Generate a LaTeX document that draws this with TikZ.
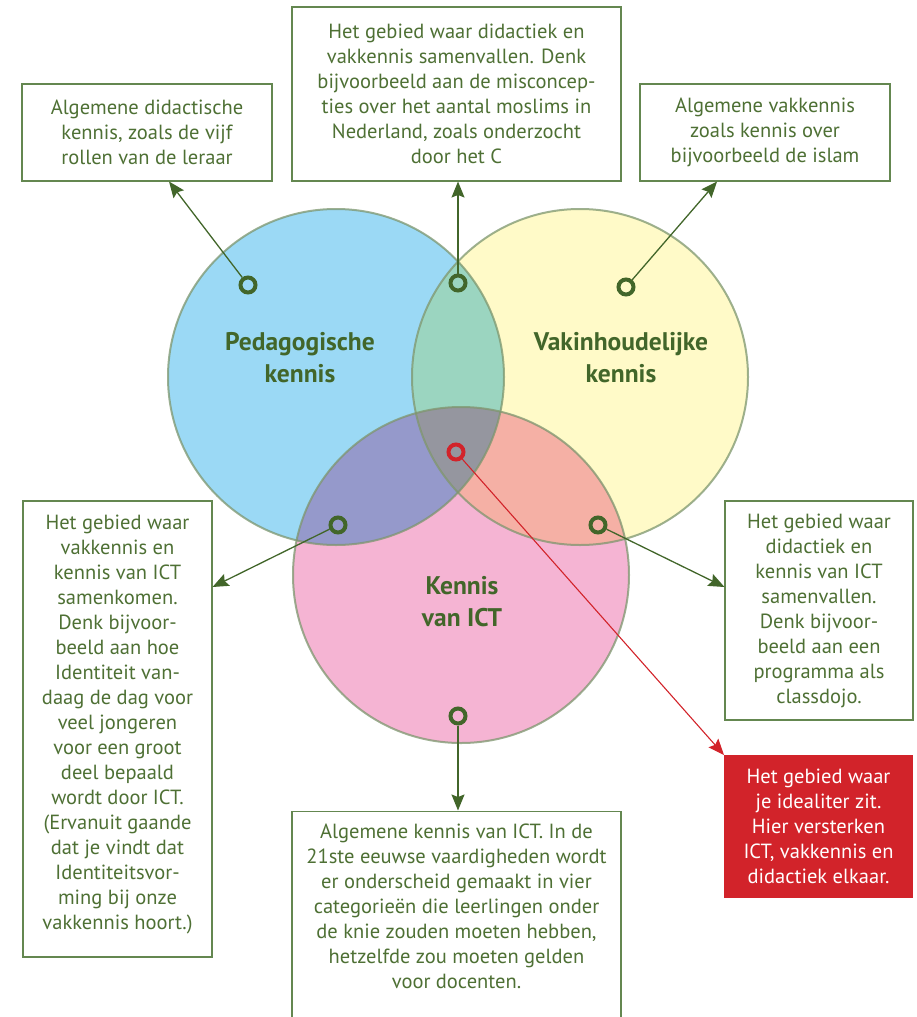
\documentclass[tikz,border=0pt]{standalone}
\usepackage{fontspec}
\setmainfont{PT Sans}
\usetikzlibrary{arrows.meta}

% palette
\definecolor{cblue}{RGB}{155,217,245}
\definecolor{cyellow}{RGB}{255,250,200}
\definecolor{cpink}{RGB}{245,180,211}
\definecolor{cby}{RGB}{155,213,192}
\definecolor{cbp}{RGB}{149,153,203}
\definecolor{cyp}{RGB}{245,176,165}
\definecolor{cbyp}{RGB}{149,150,159}
\definecolor{rimcol}{RGB}{125,150,110}
\definecolor{boxline}{RGB}{100,135,80}
\definecolor{txtgreen}{RGB}{78,112,52}
\definecolor{darkgreen}{RGB}{66,102,42}
\definecolor{accentred}{RGB}{210,35,42}

\tikzset{
  box/.style={draw=boxline, line width=1.1pt, fill=white, rectangle, inner sep=0pt,
    text=txtgreen, align=center, font=\fontsize{20.5}{25}\selectfont},
  boxtext/.style={inner sep=0pt, text=txtgreen, align=center, font=\fontsize{20.5}{25}\selectfont},
  redbox/.style={fill=accentred, rectangle, inner sep=0pt, text=white, align=center,
    font=\fontsize{20.5}{25}\selectfont},
  setlabel/.style={inner sep=0pt, text=darkgreen, align=center,
    font=\bfseries\fontsize{25.5}{32}\selectfont},
  ring/.style={circle, draw=darkgreen, line width=4pt, minimum size=15pt, inner sep=0pt},
  redring/.style={ring, draw=accentred},
  conn/.style={draw=darkgreen, line width=1.3pt, -{Stealth[length=16pt, width=13pt, inset=2.5pt]}},
  redconn/.style={draw=accentred, line width=1.1pt, -{Stealth[length=16pt, width=13pt, inset=2.5pt]}},
  rim/.style={draw=rimcol, draw opacity=0.75, line width=2pt}
}

\begin{document}
\begin{tikzpicture}[x=1pt, y=-1pt]
\useasboundingbox (0,0) rectangle (916,1017);
\clip (0,0) rectangle (916,1017);

% the three knowledge domains
\def\rad{168}
\fill[cblue]   (336,377) circle (\rad);
\fill[cyellow] (580,377) circle (\rad);
\fill[cpink]   (461,575) circle (\rad);
\begin{scope}
  \clip (336,377) circle (\rad);
  \fill[cby] (580,377) circle (\rad);
  \fill[cbp] (461,575) circle (\rad);
\end{scope}
\begin{scope}
  \clip (580,377) circle (\rad);
  \fill[cyp] (461,575) circle (\rad);
  \clip (336,377) circle (\rad);
  \fill[cbyp] (461,575) circle (\rad);
\end{scope}
\draw[rim] (336,377) circle (\rad);
\draw[rim] (580,377) circle (\rad);
\draw[rim] (461,575) circle (\rad);

\node[setlabel] (lped) at (300,358) {Pedagogische\\kennis};
\node[setlabel] (lvak) at (621,358) {Vakinhoudelijke\\kennis};
\node[setlabel] (lict) at (462,602) {Kennis\\van ICT};

% explanation boxes
\node[box, minimum width=250pt, minimum height=97pt] (b1) at (147,132.5)
  {Algemene didactische\\kennis, zoals de vijf\\rollen van de leraar};
\node[box, minimum width=329pt, minimum height=174pt] (b2) at (456.5,94)
  {Het gebied waar didactiek en\\vakkennis samenvallen. Denk\\bijvoorbeeld aan de misconcep-\\ties over het aantal moslims in\\Nederland, zoals onderzocht\\door het C};
\node[box, minimum width=250pt, minimum height=97pt] (b3) at (765,132.5)
  {Algemene vakkennis\\zoals kennis over\\bijvoorbeeld de islam};
\node[box, minimum width=189pt, minimum height=456pt] (b4) at (117.5,729) {};
\node[boxtext, anchor=north] (b4t) at (117.5,515)
  {Het gebied waar\\vakkennis en\\kennis van ICT\\samenkomen.\\Denk bijvoor-\\beeld aan hoe\\Identiteit van-\\daag de dag voor\\veel jongeren\\voor een groot\\deel bepaald\\wordt door ICT.\\(Ervanuit gaande\\dat je vindt dat\\Identiteitsvor-\\ming bij onze\\vakkennis hoort.)};
\node[box, minimum width=188pt, minimum height=219pt] (b6) at (819,610.5)
  {Het gebied waar\\didactiek en\\kennis van ICT\\samenvallen.\\Denk bijvoor-\\beeld aan een\\programma als\\classdojo.};
\node[redbox, minimum width=189pt, minimum height=143pt] (b7) at (818.5,826.5)
  {Het gebied waar\\je idealiter zit.\\Hier versterken\\ICT, vakkennis en\\didactiek elkaar.};
\node[box, minimum width=329pt, minimum height=240pt, anchor=north] (b5) at (456.5,811) {};
\node[boxtext, anchor=north] (b5t) at (456.5,824)
  {Algemene kennis van ICT. In de\\21ste eeuwse vaardigheden wordt\\er onderscheid gemaakt in vier\\categorieën die leerlingen onder\\de knie zouden moeten hebben,\\hetzelfde zou moeten gelden\\voor docenten.};

% markers inside the regions
\node[ring] (r1) at (248,285) {};
\node[ring] (r2) at (458,283) {};
\node[ring] (r3) at (626,287) {};
\node[ring] (r4) at (338,525) {};
\node[ring] (r5) at (598,525) {};
\node[ring] (r6) at (458,716) {};
\node[redring] (r7) at (456,452) {};

% arrow ends on the box borders
\coordinate (e1) at (169,181.5);
\coordinate (e2) at (458,181.5);
\coordinate (e3) at (717,181.5);
\coordinate (e4) at (212.5,587);
\coordinate (e5) at (724.5,587);
\coordinate (e6) at (458,810.5);
\coordinate (e7) at (724,755);

\draw[conn] (r1) -- (e1);
\draw[conn] (r2) -- (e2);
\draw[conn] (r3) -- (e3);
\draw[conn] (r4) -- (e4);
\draw[conn] (r5) -- (e5);
\draw[conn] (r6) -- (e6);
\draw[redconn] (r7) -- (e7);
\end{tikzpicture}
\end{document}
